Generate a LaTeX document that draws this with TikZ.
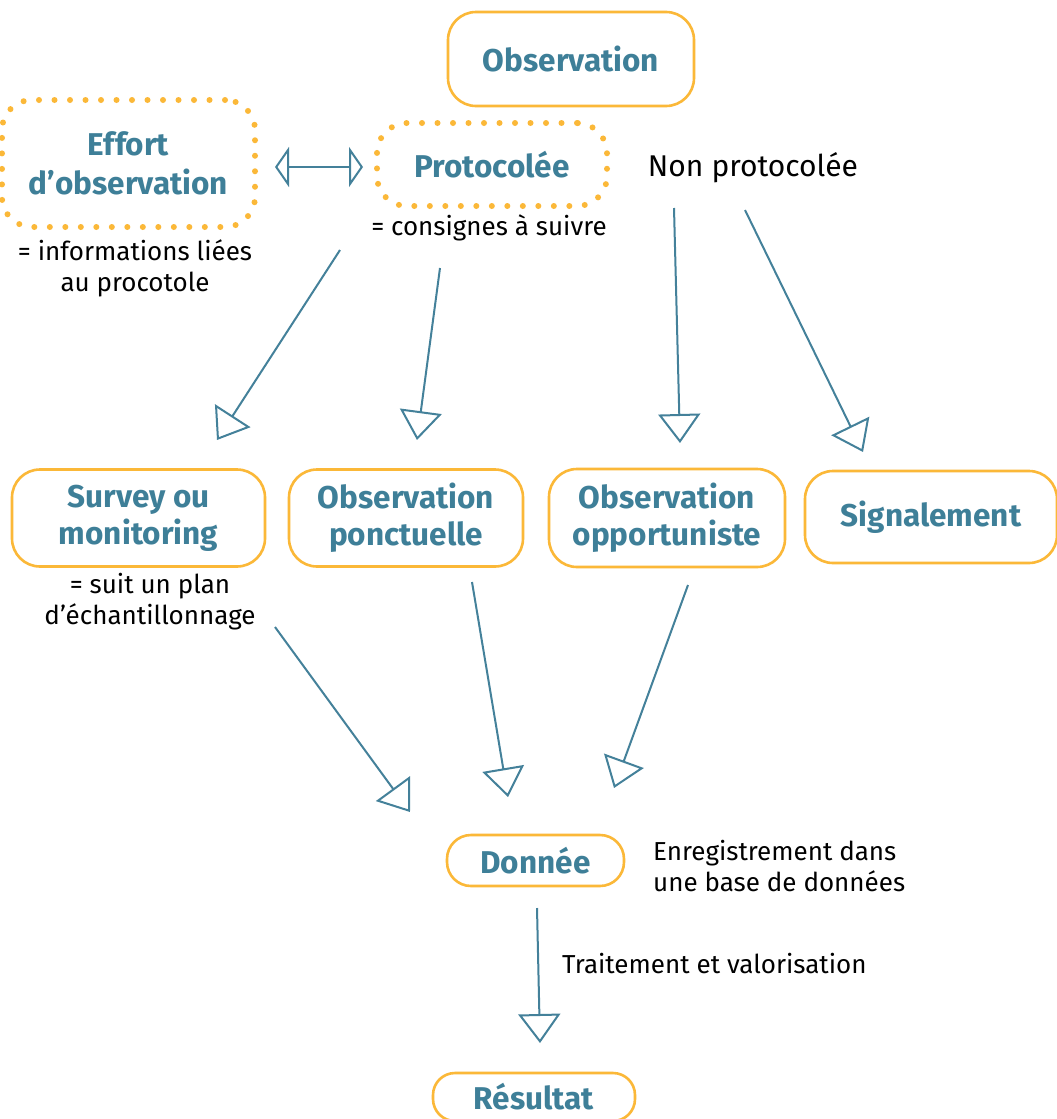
\documentclass[tikz,border=0pt]{standalone}
\usepackage{fontspec}
\setmainfont{Fira Sans}
\usetikzlibrary{arrows.meta}
\definecolor{orng}{HTML}{FBB838}
\definecolor{tealc}{HTML}{44819A}
\definecolor{tealt}{HTML}{3E7F98}
\begin{document}
\begin{tikzpicture}[x=1pt,y=-1pt,
  bx/.style={draw=orng, line width=2.6pt, rounded corners=28pt, inner sep=0pt,
    text=tealt, align=center, font=\bfseries\fontsize{31.5}{37}\selectfont},
  dotbx/.style={draw=orng, line width=6pt, line cap=round, dash pattern=on 0pt off 15.5pt,
    rounded corners=30pt, inner sep=0pt, text=tealt, align=center,
    font=\bfseries\fontsize{31.5}{39}\selectfont},
  txt/.style={inner sep=0pt, align=center, font=\fontsize{26}{31}\selectfont},
  conn/.style={draw=tealc, line width=2pt, -{Triangle[open, length=29pt, width=42pt, line width=2pt]}},
  dconn/.style={draw=tealc, line width=2pt, {Triangle[open, length=14pt, width=40pt, line width=2pt]}-{Triangle[open, length=14pt, width=40pt, line width=2pt]}}
]
\clip (0,0) rectangle (1057,1119);
\fill[white] (0,0) rectangle (1057,1119);

% boxes
\node[bx, minimum width=246pt, minimum height=94pt] (obs) at (571,59) {Observation};
\node[dotbx, minimum width=230pt, minimum height=83pt] (proto) at (492,164.5) {Protocolée};
\node[dotbx, minimum width=253pt, minimum height=127pt] (effort) at (128.5,163.5) {Effort\\d’observation};
\node[bx, minimum width=253pt, minimum height=97pt] (survey) at (138.5,518) {Survey ou\\monitoring};
\node[bx, minimum width=234pt, minimum height=97pt] (ponct) at (406,518) {Observation\\ponctuelle};
\node[bx, minimum width=236pt, minimum height=98pt] (oppor) at (667,518) {Observation\\opportuniste};
\node[bx, minimum width=252pt, minimum height=92pt] (signal) at (931,517) {Signalement};
\node[bx, minimum width=177pt, minimum height=51pt, rounded corners=24pt] (donnee) at (535.5,860.5) {Donnée};
\node[bx, minimum width=202pt, minimum height=48pt, rounded corners=22pt] (result) at (534,1097) {Résultat};

% texts
\node[txt, font=\fontsize{30}{31}\selectfont] (nonproto) at (753,168) {Non protocolée};
\node[txt] (consignes) at (489,228) {= consignes à suivre};
\node[txt] (infos) at (135,268.5) {= informations liées\\au procotole};
\node[txt] (plan) at (150,602) {= suit un plan\\d’échantillonnage};
\node[txt, anchor=west, align=left] (enreg) at (653,866) {Enregistrement dans\\une base de données};
\node[txt, anchor=west] (trait) at (562,964) {Traitement et valorisation};

% connector end points
\coordinate (a1s) at (340,250);  \coordinate (a1e) at (217,440);
\coordinate (a2s) at (440,268);  \coordinate (a2e) at (417,440);
\coordinate (a3s) at (674,208);  \coordinate (a3e) at (680,443);
\coordinate (a4s) at (745,210);  \coordinate (a4e) at (863,452);
\coordinate (a5s) at (275,627);  \coordinate (a5e) at (410,812);
\coordinate (a6s) at (472,582);  \coordinate (a6e) at (508,797);
\coordinate (a7s) at (688,585);  \coordinate (a7e) at (614,788);
\coordinate (a8s) at (537,908);  \coordinate (a8e) at (540,1043);
\coordinate (d1) at (275,167);   \coordinate (d2) at (363,167);

\draw[conn] (a1s) -- (a1e);
\draw[conn] (a2s) -- (a2e);
\draw[conn] (a3s) -- (a3e);
\draw[conn] (a4s) -- (a4e);
\draw[conn] (a5s) -- (a5e);
\draw[conn] (a6s) -- (a6e);
\draw[conn] (a7s) -- (a7e);
\draw[conn] (a8s) -- (a8e);
\draw[dconn] (d1) -- (d2);
\end{tikzpicture}
\end{document}
